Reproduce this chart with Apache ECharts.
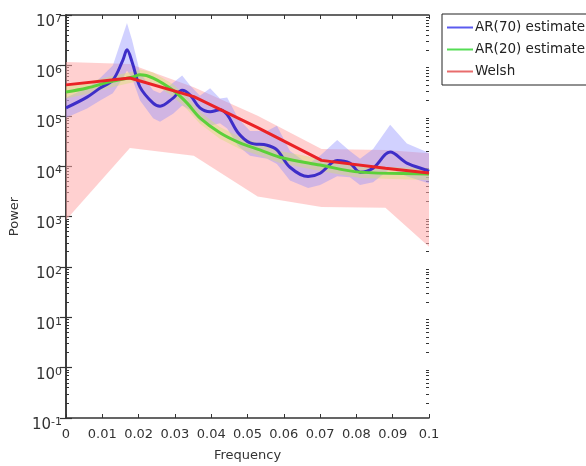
<!DOCTYPE html>
<html>
<head>
    <meta charset="UTF-8">
    <title>Power spectrum</title>
    <script src="https://cdn.jsdelivr.net/npm/echarts@6/dist/echarts.min.js"></script>
    <style>
        html, body { margin: 0; padding: 0; background: #fff; }
        #chart { width: 586px; height: 466px; }
    </style>
</head>
<body>
<div id="chart"></div>
<script>
    // AR(70) estimate and its band
    var freqAR70 = [0, 0.0058, 0.0094, 0.0129, 0.0157, 0.0168, 0.0182, 0.0204, 0.024, 0.0259, 0.0295, 0.032, 0.0342, 0.0369, 0.0397, 0.0424, 0.0444, 0.0474, 0.0507, 0.0554, 0.0581, 0.0617, 0.0667, 0.07, 0.0747, 0.0782, 0.081, 0.0846, 0.0893, 0.0939, 0.0994, 0.1];
    var ar70 = [1.43e5, 2.34e5, 3.55e5, 5.1e5, 1.29e6, 2.04e6, 1.17e6, 3.7e5, 1.78e5, 1.55e5, 2.24e5, 3.2e5, 2.57e5, 1.43e5, 1.2e5, 1.32e5, 1.05e5, 4.6e4, 2.9e4, 2.6e4, 2.1e4, 9.5e3, 6.2e3, 7.2e3, 1.3e4, 1.15e4, 7.6e3, 9.1e3, 1.9e4, 1.15e4, 8.3e3, 7.9e3];
    var ar70Upper = [2.3e5, 3.5e5, 5.6e5, 1.0e6, 4.0e6, 6.9e6, 3.2e6, 7.1e5, 3.2e5, 2.8e5, 4.5e5, 6.3e5, 4.0e5, 2.5e5, 3.5e5, 2.2e5, 2.3e5, 8.9e4, 5.0e4, 5.0e4, 6.3e4, 2.0e4, 1.1e4, 1.6e4, 3.3e4, 2.0e4, 1.4e4, 2.2e4, 6.6e4, 2.8e4, 1.9e4, 1.8e4];
    var ar70Lower = [9.1e4, 1.4e5, 2.0e5, 2.8e5, 5.6e5, 7.9e5, 5.6e5, 2.0e5, 8.9e4, 7.6e4, 1.1e5, 1.6e5, 1.3e5, 7.9e4, 6.3e4, 7.1e4, 5.6e4, 2.5e4, 1.6e4, 1.4e4, 1.1e4, 5.2e3, 3.7e3, 4.2e3, 6.3e3, 6.0e3, 4.2e3, 4.8e3, 8.9e3, 6.3e3, 4.7e3, 4.5e3];

    // AR(20) estimate and its band
    var freqAR20 = [0, 0.0058, 0.012, 0.0185, 0.0204, 0.024, 0.0295, 0.0333, 0.0369, 0.0424, 0.0479, 0.0534, 0.0589, 0.07, 0.081, 0.0994, 0.1];
    var ar20 = [2.95e5, 3.55e5, 4.7e5, 5.9e5, 6.5e5, 5.6e5, 3.2e5, 1.8e5, 9.1e4, 4.6e4, 2.9e4, 2.1e4, 1.5e4, 1.05e4, 7.6e3, 7.0e3, 6.9e3];
    var ar20Upper = [3.9e5, 4.6e5, 6.0e5, 7.6e5, 8.3e5, 7.2e5, 4.2e5, 2.4e5, 1.2e5, 6.0e4, 3.8e4, 2.8e4, 2.0e4, 1.4e4, 1.0e4, 9.2e3, 9.0e3];
    var ar20Lower = [2.2e5, 2.7e5, 3.6e5, 4.6e5, 5.0e5, 4.3e5, 2.4e5, 1.35e5, 6.9e4, 3.5e4, 2.2e4, 1.6e4, 1.15e4, 8.0e3, 5.8e3, 5.3e3, 5.2e3];

    // Welsh estimate and its band
    var freqWelsh = [0, 0.0176, 0.0352, 0.0528, 0.0704, 0.088, 0.1];
    var welsh = [4.1e5, 5.6e5, 2.4e5, 5.8e4, 1.3e4, 9.1e3, 7.3e3];
    var welshUpper = [1.17e6, 1.07e6, 3.7e5, 1.0e5, 2.2e4, 2.1e4, 1.8e4];
    var welshLower = [850, 2.3e4, 1.6e4, 2.5e3, 1.55e3, 1.5e3, 250];

    var xTicks = ['0', '0.01', '0.02', '0.03', '0.04', '0.05', '0.06', '0.07', '0.08', '0.09', '0.1'];

    // minor tick positions, in decades (log10 of 2..9 x 10^n)
    var minorExp = [];
    for (var n = -1; n < 7; n++) {
        for (var k = 2; k < 10; k++) minorExp.push(n + Math.log10(k));
    }

    function pairs(xs, ys) {
        return xs.map(function (x, i) { return [x, ys[i]]; });
    }

    function band(xs, lo, hi, color, z) {
        return {
            type: 'custom',
            silent: true,
            z: z,
            clip: true,
            data: pairs(xs, hi),
            encode: { x: 0, y: 1 },
            renderItem: function (params, api) {
                if (params.dataIndex !== 0) return null;
                var pts = [];
                for (var i = 0; i < xs.length; i++) pts.push(api.coord([xs[i], hi[i]]));
                for (var j = xs.length - 1; j >= 0; j--) pts.push(api.coord([xs[j], lo[j]]));
                return { type: 'polygon', shape: { points: pts }, style: { fill: color } };
            }
        };
    }

    var font = 'DejaVu Sans';
    var axisCol = '#333';

    function yAxisMain(pos, labels) {
        return {
            type: 'log', logBase: 10, min: 0.1, max: 1e7, interval: 1,
            position: pos,
            axisLine: { show: true, lineStyle: { color: axisCol, width: 1.5 } },
            axisTick: { show: true, inside: true, length: 6, lineStyle: { color: axisCol, width: 1.2 } },
            axisLabel: labels ? {
                show: true, margin: 4,
                padding: [14, 0, 0, 0],
                formatter: function (v) {
                    var e = Math.round(Math.log10(v));
                    return '{b|10}{s|' + e + '}';
                },
                rich: {
                    b: { fontFamily: font, fontSize: 15, color: axisCol, lineHeight: 16, verticalAlign: 'bottom' },
                    s: { fontFamily: font, fontSize: 11, color: axisCol, lineHeight: 11, verticalAlign: 'top' }
                }
            } : { show: false },
            splitLine: { show: false },
            name: labels ? 'Power' : '',
            nameLocation: 'middle',
            nameGap: 38,
            nameTextStyle: { fontFamily: font, fontSize: 13, color: axisCol }
        };
    }

    // helper axis in decade units, only used to draw the minor ticks
    function yAxisMinor(pos) {
        return {
            type: 'value', min: -1, max: 7,
            position: pos,
            axisLine: { show: false },
            axisTick: { show: true, inside: true, length: 3, customValues: minorExp, lineStyle: { color: axisCol } },
            axisLabel: { show: false },
            splitLine: { show: false }
        };
    }

    function xAxisBase(pos, labels) {
        return {
            type: 'value', min: 0, max: 0.1, interval: 0.01,
            position: pos,
            axisLine: { show: true, onZero: false, lineStyle: { color: axisCol, width: 1.5 } },
            axisTick: { show: true, inside: true, length: 4, lineStyle: { color: axisCol } },
            axisLabel: labels ? {
                show: true, margin: 10,
                fontFamily: font, fontSize: 13, color: axisCol,
                formatter: function (v) { return xTicks[Math.round(v * 100)]; }
            } : { show: false },
            splitLine: { show: false },
            name: labels ? 'Frequency' : '',
            nameLocation: 'middle',
            nameGap: 31,
            nameTextStyle: { fontFamily: font, fontSize: 13, color: axisCol }
        };
    }

    var chart = echarts.init(document.getElementById('chart'), null, { renderer: 'canvas' });

    var legendIcon = 'rect';

    var option = {
        animation: false,
        backgroundColor: '#fff',
        grid: { left: 66, right: 157, top: 15, bottom: 48, containLabel: false, outerBoundsMode: 'none' },
        legend: {
            left: 442, top: 14, orient: 'vertical',
            padding: [6, 10, 6, 5],
            itemGap: 7, itemWidth: 26, itemHeight: 2,
            borderColor: '#222', borderWidth: 1,
            textStyle: { fontFamily: font, fontSize: 13.5, lineHeight: 15, color: '#222', padding: [0, 0, 0, -3] },
            data: [
                { name: 'AR(70) estimate', icon: legendIcon, itemStyle: { color: '#5b5bef' } },
                { name: 'AR(20) estimate', icon: legendIcon, itemStyle: { color: '#55dd55' } },
                { name: 'Welsh', icon: legendIcon, itemStyle: { color: '#e86c6c' } }
            ]
        },
        xAxis: [xAxisBase('bottom', true), xAxisBase('top', false)],
        yAxis: [yAxisMain('left', true), yAxisMain('right', false),
                yAxisMinor('left'), yAxisMinor('right')],
        series: [
            band(freqWelsh, welshLower, welshUpper, 'rgba(255,170,170,0.55)', 1),
            band(freqAR70, ar70Lower, ar70Upper, 'rgba(140,140,255,0.4)', 2),
            band(freqAR20, ar20Lower, ar20Upper, 'rgba(210,225,110,0.4)', 3),
            {
                name: 'AR(70) estimate', type: 'line', smooth: 0.35, symbol: 'none', z: 5,
                lineStyle: { color: '#3e2ec8', width: 3 },
                data: pairs(freqAR70, ar70)
            },
            {
                name: 'AR(20) estimate', type: 'line', smooth: 0.35, symbol: 'none', z: 6,
                lineStyle: { color: '#5cd03a', width: 3 },
                data: pairs(freqAR20, ar20)
            },
            {
                name: 'Welsh', type: 'line', smooth: false, symbol: 'none', z: 7,
                lineStyle: { color: '#ea2226', width: 3 },
                data: pairs(freqWelsh, welsh)
            }
        ]
    };

    chart.setOption(option);
</script>
</body>
</html>
